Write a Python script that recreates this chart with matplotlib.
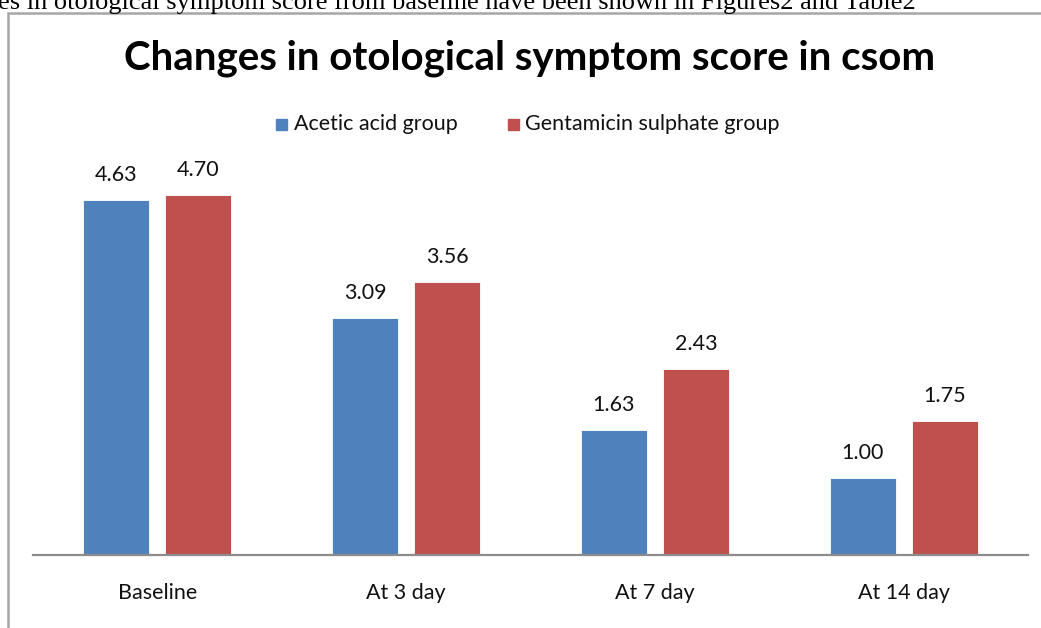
import matplotlib.pyplot as plt
from matplotlib.patches import Rectangle
import numpy as np

categories = ["Baseline", "At 3 day", "At 7 day", "At 14 day"]
acetic = [4.63, 3.09, 1.63, 1.00]
gentamicin = [4.70, 3.56, 2.43, 1.75]
series_names = ["Acetic acid group", "Gentamicin sulphate group"]
blue = "#4F81BD"
red = "#C0504D"

W, H = 1041, 628
fig = plt.figure(figsize=(W / 100, H / 100), dpi=100)
plt.rcParams["font.family"] = ["Lato", "DejaVu Sans"]
txt = "#111111"

# chart frame (cut off on right and bottom)
fig.patches.append(Rectangle((8 / W, -0.1), 1.2, (H - 13) / H + 0.1,
                             transform=fig.transFigure, fill=False,
                             edgecolor="#A6A6A6", linewidth=1.8))

# page text above the chart, partly cut off
fig.text(-2 / W, 1 - 9 / H,
         "es in otological symptom score from baseline have been shown in Figures2 and Table2",
         family="Liberation Serif", fontsize=19, va="baseline", ha="left", color="black")

ax = fig.add_axes([33 / W, (H - 555) / H, (1028 - 33) / W, (555 - 172) / H])
x = np.arange(len(categories))
bw = 0.265
off = 0.165
b1 = ax.bar(x - off, acetic, bw, color=blue, edgecolor="white", linewidth=0.6)
b2 = ax.bar(x + off, gentamicin, bw, color=red, edgecolor="white", linewidth=0.6)

for bars, vals in ((b1, acetic), (b2, gentamicin)):
    for rect, v in zip(bars, vals):
        ax.text(rect.get_x() + rect.get_width() / 2, v + 0.33, f"{v:.2f}",
                ha="center", va="center", fontsize=15.5, color=txt)

ax.set_xlim(-0.5, len(categories) - 0.5)
ax.set_ylim(0, 5)
ax.set_xticks(x)
ax.set_xticklabels(categories, fontsize=15.5, color=txt)
ax.tick_params(axis="x", length=0, pad=20)
ax.set_yticks([])
for s in ("top", "right", "left"):
    ax.spines[s].set_visible(False)
ax.spines["bottom"].set_color("#8C8C8C")
ax.spines["bottom"].set_linewidth(1.6)

fig.text(530 / W, 1 - 58 / H, "Changes in otological symptom score in csom",
         ha="center", va="center", fontsize=29, fontweight="bold", color="black")

# legend
ly = 1 - 124 / H
fig.patches.append(Rectangle((276 / W, ly - 6 / H), 11 / W, 11 / H,
                             transform=fig.transFigure, color=blue))
fig.text(294 / W, ly, series_names[0], fontsize=15.5, va="center", ha="left", color=txt)
fig.patches.append(Rectangle((508 / W, ly - 6 / H), 11 / W, 11 / H,
                             transform=fig.transFigure, color=red))
fig.text(525 / W, ly, series_names[1], fontsize=15.5, va="center", ha="left", color=txt)

fig.savefig("out.png", dpi=100)
